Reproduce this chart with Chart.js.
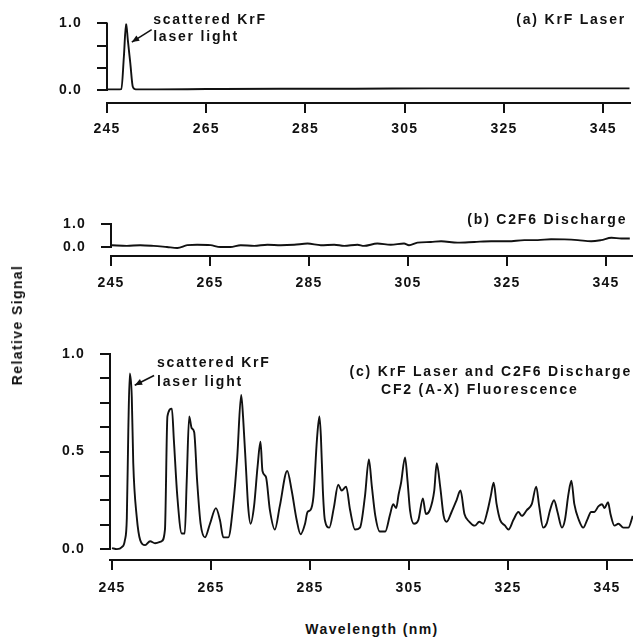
<!DOCTYPE html>
<html>
<head>
<meta charset="utf-8">
<script src="https://cdn.jsdelivr.net/npm/chart.js@4"></script>
<style>
  body { margin: 0; background: #fff; }
  #fig { position: relative; width: 633px; height: 638px; overflow: hidden;
         font-family: "Liberation Sans", Arial, sans-serif; font-weight: bold; color: #111; }
  #fig canvas { position: absolute; left: 0; }
  .lbl { position: absolute; font-size: 14px; letter-spacing: 1.4px; white-space: nowrap; }
  #ylab { left: 17px; top: 325px; transform: translate(-50%, -50%) rotate(-90deg); }
  #xlab { left: 372px; top: 629px; transform: translate(-50%, -50%); }
</style>
</head>
<body>
<div id="fig">
  <canvas id="chartA" style="top:0px" width="633" height="145"></canvas>
  <canvas id="chartB" style="top:195px" width="633" height="100"></canvas>
  <canvas id="chartC" style="top:330px" width="633" height="270"></canvas>
  <div class="lbl" id="ylab">Relative Signal</div>
  <div class="lbl" id="xlab">Wavelength (nm)</div>
</div>
<script>
const INK = '#111';
const FONT = '"Liberation Sans", Arial, sans-serif';

// x ticks shared by all three panels
const xTicks = [245, 265, 285, 305, 325, 345];

// (a) KrF laser alone
const waveA = [245, 246, 247, 247.9, 248.4, 248.85, 249.2, 249.7, 250.2, 250.8, 255, 265, 280, 295, 310, 325, 340, 350.3];
const signalA = [0.01, 0.01, 0.01, 0.015, 0.5, 1.0, 0.75, 0.4, 0.05, 0.01, 0.01, 0.015, 0.02, 0.02, 0.025, 0.025, 0.025, 0.025];
const yTicksA = [0, 0.333, 0.667, 1.0];
const yLabelsA = ['0.0', '', '', '1.0'];

// (b) C2F6 discharge alone
const waveB = [245.2, 248.2, 250.9, 253.6, 256.3, 258.4, 260.4, 262.4, 265.1, 267.1, 269.1, 271.2, 273.9, 276.6,
  279.3, 282.0, 284.7, 287.4, 290.1, 292.1, 294.8, 296.1, 298.8, 301.5, 304.2, 305.2, 306.9, 309.6, 311.7,
  315.0, 318.4, 321.8, 325.2, 328.5, 331.2, 333.9, 336.6, 339.3, 342.0, 344.0, 346.1, 348.1, 349.8];
const signalB = [0.08, 0.05, 0.08, 0.05, 0.0, -0.04, 0.08, 0.1, 0.08, 0.0, 0.0, 0.08, 0.05, 0.1,
  0.08, 0.1, 0.15, 0.08, 0.1, 0.05, 0.1, 0.05, 0.15, 0.1, 0.15, 0.08, 0.19, 0.22, 0.25,
  0.19, 0.22, 0.25, 0.25, 0.3, 0.3, 0.34, 0.33, 0.3, 0.25, 0.3, 0.4, 0.37, 0.37];
const yTicksB = [0, 1.0];
const yLabelsB = ['0.0', '1.0'];

// (c) KrF laser and C2F6 discharge, CF2 (A-X) fluorescence
const waveC = [245.0, 246.0, 247.0, 247.6, 248.0, 248.3, 248.6, 249.0, 249.3, 250.0, 250.7, 251.7, 252.7, 253.7,
  255.0, 255.7, 256.2, 257.1, 257.5, 258.2, 259.1, 259.7, 260.1, 260.6, 261.1, 261.6, 262.2, 262.9, 263.8,
  264.8, 266.0, 266.8, 267.5, 268.5, 269.5, 270.3, 271.1, 271.5, 272.1, 272.5, 273.0, 273.7, 274.4, 275.0,
  275.4, 276.1, 276.9, 277.9, 278.9, 280.4, 281.3, 282.3, 283.1, 284.0, 284.5, 285.1, 285.7, 286.4, 286.9,
  287.2, 287.6, 288.0, 288.9, 289.8, 290.7, 291.4, 292.3, 293.1, 294.1, 295.1, 296.1, 296.9, 297.5, 298.2,
  299.1, 300.2, 301.2, 301.8, 302.4, 302.9, 303.4, 304.2, 304.7, 305.2, 306.0, 306.9, 307.8, 308.4, 309.2,
  310.1, 310.6, 311.3, 312.0, 312.6, 313.6, 314.6, 315.4, 316.2, 317.2, 318.3, 319.2, 320.0, 320.8, 321.5,
  322.1, 322.7, 323.4, 324.4, 325.1, 326.1, 327.1, 327.8, 328.8, 329.8, 330.7, 331.3, 332.1, 332.8, 333.5,
  334.3, 335.0, 335.9, 336.5, 337.2, 337.8, 338.4, 339.3, 340.2, 341.0, 341.8, 342.4, 343.3, 344.0, 344.5,
  345.2, 345.7, 346.5, 347.3, 348.3, 349.3, 350.2];
const signalC = [0.005, 0.0, 0.01, 0.045, 0.16, 0.61, 0.90, 0.78, 0.44, 0.165, 0.046, 0.02, 0.04, 0.03,
  0.04, 0.10, 0.68, 0.72, 0.56, 0.27, 0.08, 0.08, 0.35, 0.68, 0.62, 0.60, 0.35, 0.13, 0.06,
  0.13, 0.21, 0.15, 0.06, 0.06, 0.23, 0.47, 0.79, 0.67, 0.40, 0.22, 0.13, 0.22, 0.42, 0.55,
  0.40, 0.37, 0.20, 0.10, 0.22, 0.40, 0.30, 0.15, 0.076, 0.13, 0.19, 0.20, 0.27, 0.56, 0.68,
  0.58, 0.30, 0.15, 0.11, 0.21, 0.33, 0.30, 0.32, 0.20, 0.10, 0.11, 0.27, 0.46, 0.32, 0.17,
  0.09, 0.09, 0.18, 0.23, 0.21, 0.28, 0.34, 0.47, 0.35, 0.20, 0.13, 0.15, 0.26, 0.18, 0.20,
  0.30, 0.44, 0.32, 0.17, 0.14, 0.19, 0.25, 0.30, 0.18, 0.14, 0.12, 0.14, 0.13, 0.19, 0.27,
  0.34, 0.23, 0.15, 0.12, 0.10, 0.15, 0.19, 0.17, 0.20, 0.23, 0.32, 0.22, 0.11, 0.13, 0.20,
  0.25, 0.19, 0.11, 0.15, 0.28, 0.35, 0.23, 0.15, 0.11, 0.15, 0.19, 0.19, 0.22, 0.23, 0.21,
  0.24, 0.18, 0.12, 0.13, 0.11, 0.11, 0.17];
const yTicksC = [0, 0.125, 0.25, 0.375, 0.5, 0.625, 0.75, 0.875, 1.0];
const yLabelsC = ['0.0', '', '', '', '0.5', '', '', '', '1.0'];

// draws the y spine (0 to 1 only), the notes and the arrows
const decor = {
    id: 'decor',
    beforeUpdate(chart) { chart.ctx.letterSpacing = '1.2px'; },
    beforeDraw(chart) { chart.ctx.letterSpacing = '1.2px'; },
    afterDraw(chart, args, opts) {
        const { ctx, scales: { x, y } } = chart;
        ctx.save();
        ctx.strokeStyle = INK;
        ctx.fillStyle = INK;
        ctx.lineWidth = 2;
        const left = chart.chartArea.left;
        ctx.beginPath();
        ctx.moveTo(left, y.getPixelForValue(0) + 1);
        ctx.lineTo(left, y.getPixelForValue(1) - 1);
        ctx.stroke();

        ctx.font = 'bold 14px ' + FONT;
        ctx.letterSpacing = '1.8px';
        ctx.textBaseline = 'middle';
        (opts.notes || []).forEach(n => {
            ctx.textAlign = n.align;
            ctx.fillText(n.text, x.getPixelForValue(n.x), y.getPixelForValue(n.y));
        });

        (opts.arrows || []).forEach(a => {
            const x1 = x.getPixelForValue(a.from[0]), y1 = y.getPixelForValue(a.from[1]);
            const x2 = x.getPixelForValue(a.to[0]), y2 = y.getPixelForValue(a.to[1]);
            const ang = Math.atan2(y2 - y1, x2 - x1);
            ctx.lineWidth = 1.6;
            ctx.beginPath();
            ctx.moveTo(x1, y1);
            ctx.lineTo(x2, y2);
            ctx.stroke();
            ctx.beginPath();
            ctx.moveTo(x2, y2);
            ctx.lineTo(x2 - 8 * Math.cos(ang - 0.4), y2 - 8 * Math.sin(ang - 0.4));
            ctx.lineTo(x2 - 8 * Math.cos(ang + 0.4), y2 - 8 * Math.sin(ang + 0.4));
            ctx.closePath();
            ctx.fill();
        });
        ctx.restore();
    }
};

function makePanel(id, wave, signal, p) {
    new Chart(document.getElementById(id).getContext('2d'), {
        type: 'line',
        data: {
            datasets: [{
                data: wave.map((w, i) => ({ x: w, y: signal[i] })),
                borderColor: INK,
                borderWidth: 1.9,
                pointRadius: 0,
                cubicInterpolationMode: 'monotone',
                fill: false
            }]
        },
        options: {
            responsive: false,
            animation: false,
            devicePixelRatio: 1,
            layout: { padding: { top: p.padTop, right: p.padRight, left: 0, bottom: 0 } },
            plugins: {
                legend: { display: false },
                tooltip: { enabled: false },
                decor: { notes: p.notes, arrows: p.arrows }
            },
            scales: {
                x: {
                    type: 'linear',
                    min: p.xMin,
                    max: p.xMax,
                    afterBuildTicks: s => { s.ticks = xTicks.map(v => ({ value: v })); },
                    afterFit: s => { s.height = p.xHeight; },
                    border: { display: true, color: INK, width: 2 },
                    grid: { drawOnChartArea: false, drawTicks: true, tickLength: 10, color: INK, lineWidth: 2 },
                    ticks: { color: INK, padding: p.xPad, maxRotation: 0, font: { family: FONT, size: 14, weight: 'bold' },
                             callback: v => String(v) }
                },
                y: {
                    min: p.yMin,
                    max: 1,
                    afterBuildTicks: s => { s.ticks = p.yTicks.map(v => ({ value: v })); },
                    afterFit: s => { s.width = p.yWidth; },
                    border: { display: false },
                    grid: { drawOnChartArea: false, drawTicks: true, tickLength: 10, color: INK, lineWidth: 2 },
                    ticks: { color: INK, padding: 15, font: { family: FONT, size: 14, weight: 'bold' },
                             callback: (v, i) => p.yLabels[i] }
                }
            }
        },
        plugins: [decor]
    });
}

makePanel('chartA', waveA, signalA, {
    xMin: 245, xMax: 350.4, yMin: -0.194, yTicks: yTicksA, yLabels: yLabelsA,
    yWidth: 107, xHeight: 42, xPad: 8, padTop: 23, padRight: 3,
    notes: [
        { text: '(a) KrF Laser', x: 349.6, y: 1.045, align: 'right' },
        { text: 'scattered KrF', x: 254.3, y: 1.045, align: 'left' },
        { text: 'laser light', x: 254.3, y: 0.79, align: 'left' }
    ],
    arrows: [{ from: [254.0, 0.906], to: [250.0, 0.72] }]
});

makePanel('chartB', waveB, signalB, {
    xMin: 245, xMax: 350.45, yMin: -0.39, yTicks: yTicksB, yLabels: yLabelsB,
    yWidth: 111, xHeight: 39, xPad: 9, padTop: 29, padRight: 0,
    notes: [
        { text: '(b) C2F6 Discharge', x: 349.3, y: 1.17, align: 'right' }
    ],
    arrows: []
});

makePanel('chartC', waveC, signalC, {
    xMin: 244.6, xMax: 350.25, yMin: -0.056, yTicks: yTicksC, yLabels: yLabelsC,
    yWidth: 110, xHeight: 40, xPad: 10, padTop: 24, padRight: 0,
    notes: [
        { text: 'scattered KrF', x: 254.1, y: 0.954, align: 'left' },
        { text: 'laser light', x: 254.1, y: 0.856, align: 'left' },
        { text: '(c) KrF Laser and C2F6 Discharge', x: 350.05, y: 0.908, align: 'right' },
        { text: 'CF2 (A-X) Fluorescence', x: 319.3, y: 0.815, align: 'center' }
    ],
    arrows: [{ from: [253.5, 0.89], to: [249.6, 0.84] }]
});
</script>
</body>
</html>
